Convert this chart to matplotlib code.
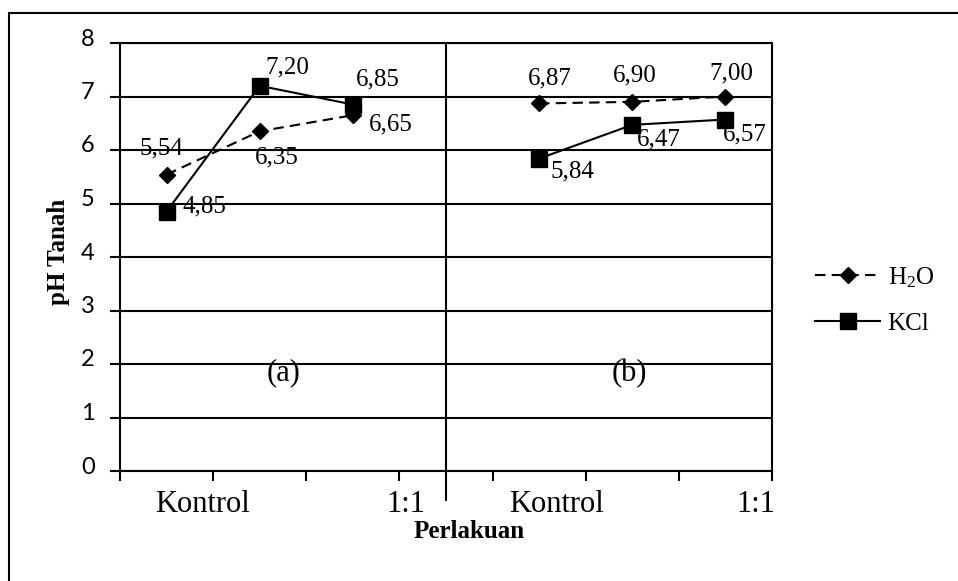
import numpy as np
import matplotlib
matplotlib.use('Agg')
import matplotlib.pyplot as plt
from matplotlib.patches import Rectangle
from matplotlib.transforms import ScaledTranslation

plt.rcParams['font.family'] = ['Liberation Serif', 'DejaVu Serif']
plt.rcParams['mathtext.fontset'] = 'custom'
plt.rcParams['mathtext.rm'] = 'Liberation Serif'

# Data: pH tanah, (a) and (b)
x_a = np.array([0.5, 1.5, 2.5])
x_b = np.array([4.5, 5.5, 6.5])
h2o_a = [5.54, 6.35, 6.65]
kcl_a = [4.85, 7.20, 6.85]
h2o_b = [6.87, 6.90, 7.00]
kcl_b = [5.84, 6.47, 6.57]

kategori = ['Kontrol', '1:1', 'Kontrol', '1:1']
kategori_x = [0.89, 3.07, 4.69, 6.83]

# offset label angka (points)
off_h2o = [(-4, 19), (12, -19), (27, -6.5), (8, 18), (2, 19), (4, 16.5)]
off_kcl = [(27, 4), (20, 13), (18, 18), (24, -9.4), (19.4, -10.8), (13.7, -10.8)]

fig = plt.figure(figsize=(9.58, 5.81), dpi=100)
ax = fig.add_axes([120 / 958, 1 - 471 / 581, (772 - 120) / 958, (471 - 43) / 581])

lw = 1.5
ax.set_xlim(0, 7)
ax.set_ylim(0, 8)
ax.set_yticks(range(0, 9))
ax.yaxis.grid(True, color='black', linewidth=lw)
ax.set_axisbelow(True)
for s in ['left', 'bottom', 'right', 'top']:
    ax.spines[s].set_linewidth(lw)
    ax.spines[s].set_color('black')

ax.set_xticks(range(0, 8))
ax.set_xticklabels([])
ax.tick_params(axis='both', length=7.2, width=lw, direction='out', color='black')
ax.tick_params(axis='y', pad=11, labelsize=17, labelfontfamily='Lato')
for lab in ax.get_yticklabels():
    lab.set_transform(lab.get_transform() + ScaledTranslation(0, 0.06, fig.dpi_scale_trans))

# garis pemisah (a) | (b)
ax.axvline(3.5, ymin=-0.068, ymax=1, color='black', linewidth=lw, clip_on=False)

line_h2o, = ax.plot(x_a, h2o_a, color='black', linewidth=lw, dashes=(5, 3),
                    marker='D', markersize=8.5, label='$\\mathregular{H_2O}$')
ax.plot(x_b, h2o_b, color='black', linewidth=lw, dashes=(5, 3), marker='D', markersize=8.5)
line_kcl, = ax.plot(x_a, kcl_a, color='black', linewidth=lw, marker='s', markersize=11, label='KCl')
ax.plot(x_b, kcl_b, color='black', linewidth=lw, marker='s', markersize=11)

xs = list(x_a) + list(x_b)
for x, v, off in zip(xs, h2o_a + h2o_b, off_h2o):
    ax.annotate(f'{v:.2f}'.replace('.', ','), (x, v), xytext=off, textcoords='offset points',
                ha='center', va='center', fontsize=18)
for x, v, off in zip(xs, kcl_a + kcl_b, off_kcl):
    ax.annotate(f'{v:.2f}'.replace('.', ','), (x, v), xytext=off, textcoords='offset points',
                ha='center', va='center', fontsize=18)

# label kategori
for x, t in zip(kategori_x, kategori):
    ax.text(x, -0.096, t, transform=ax.get_xaxis_transform(), ha='center', va='baseline', fontsize=22)

ax.text(1.76, 1.83, '(a)', ha='center', va='center', fontsize=22)
ax.text(5.47, 1.83, '(b)', ha='center', va='center', fontsize=22)

fig.text(469 / 958, 1 - 532 / 581, 'Perlakuan', ha='center', va='center', fontsize=18, fontweight='bold')
fig.text(59 / 958, 1 - 252 / 581, 'pH Tanah', ha='center', va='center', rotation=90,
         fontsize=18, fontweight='bold')

fig.legend(handles=[line_h2o, line_kcl], loc='center left', bbox_to_anchor=(815 / 958, 1 - 300 / 581),
           frameon=False, fontsize=18, handlelength=2.6, handletextpad=0.3, borderpad=0,
           borderaxespad=0, labelspacing=0.9, numpoints=1)

fig.patches.append(Rectangle((8.5 / 958, -0.2), 1.5, 1.2 - 13 / 581, transform=fig.transFigure,
                             fill=False, edgecolor='black', linewidth=1.5, clip_on=False))

fig.savefig('out.png', dpi=100)
